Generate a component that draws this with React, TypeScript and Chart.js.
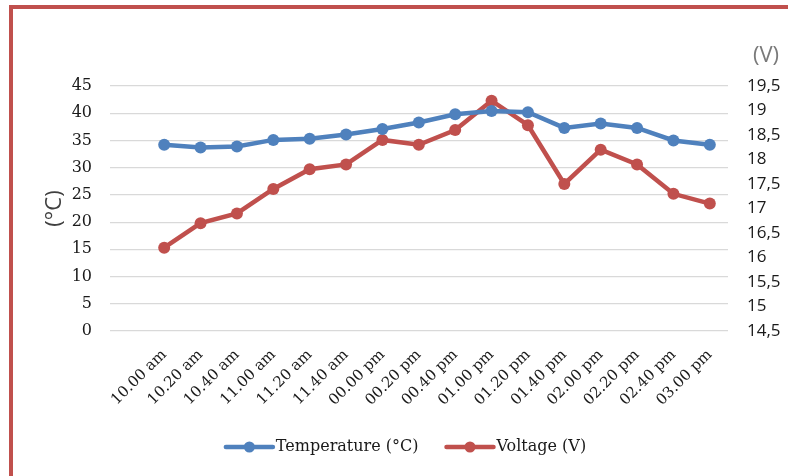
import { useEffect, useRef } from "react";
import { Chart, registerables } from "chart.js";

Chart.register(...registerables);

const categories = [
  "10.00 am", "10.20 am", "10.40 am", "11.00 am", "11.20 am", "11.40 am",
  "00.00 pm", "00.20 pm", "00.40 pm", "01.00 pm", "01.20 pm", "01.40 pm",
  "02.00 pm", "02.20 pm", "02.40 pm", "03.00 pm",
];
const temperature = [34.2, 33.7, 33.9, 35.1, 35.3, 36.1, 37.1, 38.3, 39.8, 40.4, 40.2, 37.3, 38.1, 37.3, 35.0, 34.2];
const voltage = [16.2, 16.7, 16.9, 17.4, 17.8, 17.9, 18.4, 18.3, 18.6, 19.2, 18.7, 17.5, 18.2, 17.9, 17.3, 17.1];
const seriesNames = ["Temperature (°C)", "Voltage (V)"];
const leftTitle = "(°C)";
const rightTitle = "(V)";

const BLUE = "#4f81bd";
const RED = "#c0504d";
const SERIF = "'DejaVu Serif', serif";
const SANS = "'Open Sans', sans-serif";

const decor = {
  id: "decor",
  beforeDraw(chart: any) {
    const ctx = chart.ctx;
    ctx.save();
    ctx.fillStyle = "#ffffff";
    ctx.fillRect(0, 0, chart.width, chart.height);
    ctx.fillStyle = RED;
    ctx.fillRect(9, 5, chart.width - 9, 4);
    ctx.fillRect(9, 5, 4, chart.height - 5);
    ctx.restore();
  },
  afterDraw(chart: any) {
    const ctx = chart.ctx;
    const area = chart.chartArea;
    ctx.save();
    ctx.font = `22px ${SANS}`;
    ctx.fillStyle = "#404040";
    ctx.textAlign = "center";
    ctx.textBaseline = "middle";
    ctx.translate(55, (area.top + area.bottom) / 2);
    ctx.rotate(-Math.PI / 2);
    ctx.fillText(leftTitle, 0, 0);
    ctx.restore();

    ctx.save();
    ctx.font = `22px ${SANS}`;
    ctx.fillStyle = "#7a7a7a";
    ctx.textAlign = "center";
    ctx.textBaseline = "middle";
    ctx.fillText(rightTitle, 766, 56);
    ctx.restore();

    ctx.save();
    ctx.font = `16px ${SERIF}`;
    const lineLen = 47;
    const gapText = 3;
    const gapItem = 28;
    const colors = [BLUE, RED];
    const widths = seriesNames.map((n) => ctx.measureText(n).width);
    const total = widths.reduce((a, w) => a + lineLen + gapText + w, 0) + gapItem * (seriesNames.length - 1);
    let x = 406 - total / 2;
    const y = 447;
    seriesNames.forEach((name, i) => {
      ctx.strokeStyle = colors[i];
      ctx.lineWidth = 4.5;
      ctx.lineCap = "round";
      ctx.beginPath();
      ctx.moveTo(x, y);
      ctx.lineTo(x + lineLen, y);
      ctx.stroke();
      ctx.fillStyle = colors[i];
      ctx.beginPath();
      ctx.arc(x + lineLen / 2, y, 5.5, 0, Math.PI * 2);
      ctx.fill();
      ctx.fillStyle = "#1a1a1a";
      ctx.textAlign = "left";
      ctx.textBaseline = "middle";
      ctx.fillText(name, x + lineLen + gapText, y);
      x += lineLen + gapText + widths[i] + gapItem;
    });
    ctx.restore();
  },
};

export default function App() {
  const ref = useRef<HTMLCanvasElement | null>(null);
  useEffect(() => {
    if (!ref.current) return;
    const chart = new Chart(ref.current, {
      type: "line",
      data: {
        labels: categories,
        datasets: [
          {
            label: seriesNames[0],
            data: temperature,
            yAxisID: "y",
            borderColor: BLUE,
            backgroundColor: BLUE,
            borderWidth: 4.5,
            pointRadius: 6,
            pointBorderWidth: 0,
            pointBackgroundColor: BLUE,
            tension: 0,
          },
          {
            label: seriesNames[1],
            data: voltage,
            yAxisID: "y1",
            borderColor: RED,
            backgroundColor: RED,
            borderWidth: 4.5,
            pointRadius: 6,
            pointBorderWidth: 0,
            pointBackgroundColor: RED,
            tension: 0,
          },
        ],
      },
      options: {
        responsive: false,
        animation: false,
        layout: { padding: { top: 86, left: 0, right: 0, bottom: 0 } },
        plugins: { legend: { display: false }, tooltip: { enabled: false } },
        scales: {
          x: {
            offset: true,
            grid: { display: false },
            border: { display: false },
            ticks: {
              minRotation: 45,
              maxRotation: 45,
              autoSkip: false,
              padding: 7,
              color: "#1a1a1a",
              font: { family: SERIF, size: 15 },
            },
            afterFit: (s: any) => { s.height = 145; },
          },
          y: {
            position: "left",
            min: 0,
            max: 45,
            ticks: { stepSize: 5, padding: 18, color: "#1a1a1a", font: { family: SERIF, size: 16 } },
            grid: { color: "#d9d9d9", lineWidth: 1.2, tickLength: 36, tickColor: "#d9d9d9", drawTicks: true },
            border: { display: false },
            afterFit: (s: any) => { s.width = 146; },
          },
          y1: {
            position: "right",
            min: 14.5,
            max: 19.5,
            ticks: {
              stepSize: 0.5,
              padding: 19,
              color: "#1a1a1a",
              font: { family: SANS, size: 17 },
              callback: (v: any) => String(Number(v)).replace(".", ","),
            },
            grid: { drawOnChartArea: false, drawTicks: false },
            border: { display: false },
            afterFit: (s: any) => { s.width = 60; },
          },
        },
      },
      plugins: [decor],
    });
    return () => chart.destroy();
  }, []);
  return (
    <div style={{ position: "absolute", left: 0, top: 0, width: 788, height: 476 }}>
      <canvas ref={ref} width={788} height={476} style={{ width: 788, height: 476, display: "block" }} />
    </div>
  );
}
